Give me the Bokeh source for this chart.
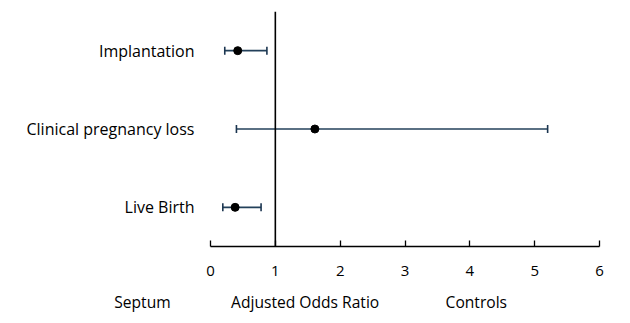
from bokeh.plotting import figure
from bokeh.layouts import column, row
from bokeh.models import Range1d, Span, FixedTicker, Whisker, ColumnDataSource
from bokeh.core.properties import value
from bokeh.embed import file_html
from bokeh.resources import INLINE

outcomes = ["Live Birth", "Clinical pregnancy loss", "Implantation"]
positions = [1, 2, 3]
odds_ratio = [0.38, 1.61, 0.42]
ci_lower = [0.19, 0.40, 0.22]
ci_upper = [0.78, 5.20, 0.87]
x_ticks = [0, 1, 2, 3, 4, 5, 6]
bottom_texts = ["Septum", "Adjusted Odds Ratio", "Controls"]
bottom_x = [-1.05, 1.46, 4.10]

FONT = "Open Sans"
W = 622
LEFT, RIGHT = 210, 23
X0, X1 = 0, 6
src = ColumnDataSource(dict(y=positions, x=odds_ratio, lo=ci_lower, hi=ci_upper))

p = figure(width=W, height=285, output_backend="svg", toolbar_location=None,
           x_range=Range1d(X0, X1), y_range=Range1d(0.5, 3.5),
           min_border_left=LEFT, min_border_right=RIGHT, min_border_top=11, min_border_bottom=39)
p.outline_line_color = None
p.grid.visible = False

whisk = Whisker(source=src, base="y", lower="lo", upper="hi", dimension="width",
                line_color="#23405a", line_width=1.6)
for head in (whisk.upper_head, whisk.lower_head):
    head.size = 8
    head.line_color = "#1b3550"
    head.line_width = 1.6
p.add_layout(whisk)

p.scatter("x", "y", source=src, size=8, color="black")

p.add_layout(Span(location=1, dimension="height", line_color="black", line_width=1.6))

p.xaxis.ticker = FixedTicker(ticks=x_ticks)
p.xaxis.major_tick_in = 6
p.xaxis.major_tick_out = 0
p.xaxis.minor_tick_line_color = None
p.xaxis.axis_line_color = "black"
p.xaxis.axis_line_width = 1.3
p.xaxis.major_tick_line_width = 1.3
p.xaxis.major_label_text_font = FONT
p.xaxis.major_label_text_font_size = "15px"
p.xaxis.major_label_text_color = "black"
p.xaxis.major_label_standoff = 19

p.yaxis.ticker = FixedTicker(ticks=positions)
p.yaxis.major_label_overrides = {pos: name for pos, name in zip(positions, outcomes)}
p.yaxis.axis_line_color = None
p.yaxis.major_tick_line_color = None
p.yaxis.minor_tick_line_color = None
p.yaxis.major_label_standoff = 10
p.yaxis.major_label_text_font = FONT
p.yaxis.major_label_text_font_size = "16px"
p.yaxis.major_label_text_color = "black"

# strip below the chart for the direction / axis captions, sharing the same x scale
frame_w = W - LEFT - RIGHT
unit = frame_w / (X1 - X0)
p2 = figure(width=W, height=30, output_backend="svg", toolbar_location=None,
            x_range=Range1d(X0 - LEFT / unit, X1 + RIGHT / unit), y_range=Range1d(0, 30),
            x_axis_location=None, y_axis_location=None,
            min_border_left=0, min_border_right=0, min_border_top=0, min_border_bottom=0)
p2.outline_line_color = None
p2.grid.visible = False
p2.text(x=bottom_x, y=[14] * len(bottom_x), text=bottom_texts, text_align="center",
        text_baseline="alphabetic", text_font=value(FONT), text_font_size="15.6px",
        text_color="black")

layout = column(p, row(p2), spacing=0)
open("out.html", "w").write(file_html(layout, INLINE))
